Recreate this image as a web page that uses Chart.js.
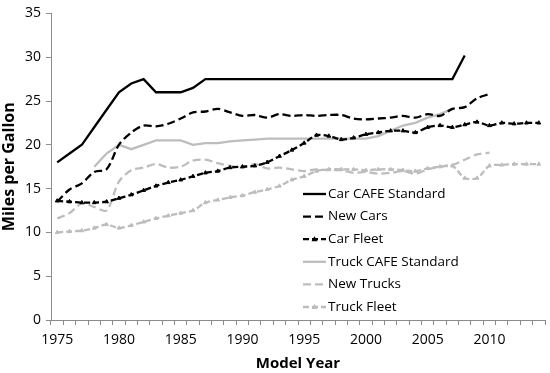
<!DOCTYPE html>
<html>
<head>
<meta charset="utf-8">
<script src="https://cdn.jsdelivr.net/npm/chart.js@4"></script>
<style>
  body { margin: 0; background: #fff; }
  #wrap { width: 550px; height: 373px; }
</style>
</head>
<body>
<div id="wrap"><canvas id="myChart" width="550" height="373"></canvas></div>
<script>
const years = [1975,1976,1977,1978,1979,1980,1981,1982,1983,1984,
               1985,1986,1987,1988,1989,1990,1991,1992,1993,1994,
               1995,1996,1997,1998,1999,2000,2001,2002,2003,2004,
               2005,2006,2007,2008,2009,2010,2011,2012,2013,2014]
const yTicks = [0, 5, 10, 15, 20, 25, 30, 35]

const carCafe = [18,19,20,22,24,26,27,27.5,26,26,
                 26,26.5,27.5,27.5,27.5,27.5,27.5,27.5,27.5,27.5,
                 27.5,27.5,27.5,27.5,27.5,27.5,27.5,27.5,27.5,27.5,
                 27.5,27.5,27.5,30.2,null,null,null,null,null,null]
const newCars = [13.5,14.9,15.6,16.9,17.2,20.0,21.4,22.2,22.1,22.4,
                 23.0,23.7,23.8,24.1,23.7,23.3,23.4,23.1,23.5,23.3,
                 23.4,23.3,23.4,23.4,23.0,22.9,23.0,23.1,23.3,23.1,
                 23.5,23.3,24.1,24.3,25.3,25.8,null,null,null,null]
const carFleet = [13.6,13.5,13.4,13.4,13.5,13.9,14.3,14.8,15.3,15.7,
                  16.0,16.4,16.8,17.0,17.4,17.5,17.6,18.0,18.7,19.4,
                  20.2,21.1,21.0,20.6,20.8,21.2,21.4,21.6,21.6,21.4,
                  22.0,22.2,22.0,22.3,22.6,22.2,22.5,22.4,22.5,22.5]
const truckCafe = [null,null,null,17.5,19.0,20.0,19.5,20.0,20.5,20.5,
                   20.5,20.0,20.2,20.2,20.4,20.5,20.6,20.7,20.7,20.7,
                   20.7,20.7,20.7,20.7,20.7,20.7,21.0,21.6,22.2,22.5,
                   23.1,23.5,24.1,null,null,null,null,null,null,null]
const newTrucks = [11.6,12.2,13.3,12.9,12.5,15.8,17.1,17.4,17.8,17.4,
                   17.5,18.2,18.3,17.9,17.6,17.4,17.8,17.3,17.4,17.2,
                   17.0,17.2,17.1,17.1,16.8,16.9,16.7,16.8,17.0,16.7,
                   17.2,17.5,17.7,18.3,18.9,19.1,null,null,null,null]
const truckFleet = [10.0,10.1,10.2,10.5,10.9,10.5,10.8,11.2,11.6,11.9,
                    12.2,12.5,13.4,13.7,14.0,14.2,14.6,14.9,15.3,16.0,
                    16.4,17.0,17.2,17.2,17.2,17.1,17.2,17.2,17.1,17.0,
                    17.3,17.5,17.6,16.2,16.2,17.6,17.7,17.8,17.8,17.8]

const BLACK = '#000000'
const GRAY = '#bdbdbd'
const FONT = "'Open Sans', 'Liberation Sans', sans-serif"

function line(label, data, color, dash, marker, tension) {
    return {
        label, data,
        borderColor: color,
        backgroundColor: color,
        borderWidth: 2.3,
        borderDash: dash,
        pointRadius: marker ? 2.2 : 0,
        pointStyle: 'triangle',
        pointBorderWidth: 1,
        tension: tension,
        spanGaps: false,
        fill: false
    }
}

// legend drawn inside the plot, Excel style
const insideLegend = {
    id: 'insideLegend',
    afterDraw(chart) {
        const ctx = chart.ctx
        const x0 = 303, len = 23, top = 194, step = 22.6
        ctx.save()
        ctx.font = '13.5px ' + FONT
        ctx.textBaseline = 'middle'
        chart.data.datasets.forEach((ds, i) => {
            const y = top + i * step
            ctx.strokeStyle = ds.borderColor
            ctx.lineWidth = ds.borderWidth
            ctx.setLineDash(ds.borderDash || [])
            ctx.beginPath()
            ctx.moveTo(x0, y)
            ctx.lineTo(x0 + len, y)
            ctx.stroke()
            ctx.setLineDash([])
            if (ds.pointRadius > 0) {
                ctx.fillStyle = ds.borderColor
                ctx.beginPath()
                ctx.moveTo(x0 + len / 2, y - 3)
                ctx.lineTo(x0 + len / 2 + 3, y + 2)
                ctx.lineTo(x0 + len / 2 - 3, y + 2)
                ctx.closePath()
                ctx.fill()
            }
            ctx.fillStyle = '#000'
            ctx.fillText(ds.label, x0 + len + 2, y)
        })
        ctx.restore()
    }
}

const ctx = document.getElementById('myChart').getContext('2d')
const myChart = new Chart(ctx, {
    type: 'line',
    data: {
        labels: years,
        datasets: [
            line('Car CAFE Standard', carCafe, BLACK, [], false, 0),
            line('New Cars', newCars, BLACK, [8, 4], false, 0.3),
            line('Car Fleet', carFleet, BLACK, [6, 3], true, 0.3),
            line('Truck CAFE Standard', truckCafe, GRAY, [], false, 0),
            line('New Trucks', newTrucks, GRAY, [8, 4], false, 0.3),
            line('Truck Fleet', truckFleet, GRAY, [6, 3], true, 0.3)
        ]
    },
    options: {
        responsive: false,
        animation: false,
        layout: { padding: { top: 10, right: 4, left: 0, bottom: 0 } },
        plugins: {
            legend: { display: false },
            tooltip: { enabled: false }
        },
        scales: {
            x: {
                type: 'category',
                offset: true,
                grid: {
                    offset: true,
                    drawOnChartArea: false,
                    drawTicks: true,
                    tickLength: 5,
                    color: '#8c8c8c'
                },
                border: { color: '#8c8c8c', width: 1 },
                ticks: {
                    autoSkip: false,
                    maxRotation: 0,
                    padding: 7,
                    color: '#000',
                    font: { family: FONT, size: 14 },
                    callback: function (v, i) {
                        const y = years[i]
                        return y % 5 === 0 ? String(y) : ''
                    }
                },
                title: {
                    display: true,
                    text: 'Model Year',
                    color: '#000',
                    font: { family: FONT, size: 15, weight: 'bold' },
                    padding: { top: 0, bottom: 0 }
                },
                afterFit: s => { s.height = 53 }
            },
            y: {
                min: 0,
                max: 35,
                afterBuildTicks: s => { s.ticks = yTicks.map(v => ({ value: v })) },
                grid: {
                    drawOnChartArea: false,
                    drawTicks: true,
                    tickLength: 5,
                    color: '#8c8c8c'
                },
                border: { color: '#8c8c8c', width: 1 },
                ticks: {
                    padding: 5,
                    color: '#000',
                    font: { family: FONT, size: 14 }
                },
                title: {
                    display: true,
                    text: 'Miles per Gallon',
                    color: '#000',
                    font: { family: FONT, size: 16, weight: 'bold' },
                    padding: { top: 0, bottom: 0 }
                },
                afterFit: s => { s.width = 51 }
            }
        }
    },
    plugins: [insideLegend]
})
</script>
</body>
</html>
